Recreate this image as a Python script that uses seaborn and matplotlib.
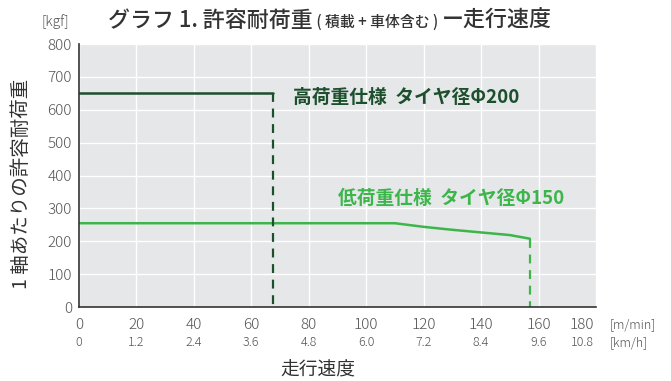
import matplotlib
matplotlib.use("Agg")
import matplotlib.pyplot as plt
import matplotlib.transforms as mtrans
import seaborn as sns
import pandas as pd

# Data
speed_ticks = [0, 20, 40, 60, 80, 100, 120, 140, 160, 180]
kmh_labels = ["0", "1.2", "2.4", "3.6", "4.8", "6.0", "7.2", "8.4", "9.6", "10.8"]
load_ticks = [0, 100, 200, 300, 400, 500, 600, 700, 800]

high_speed = [0, 67.5]
high_load = [650, 650]
high_max_speed = 67.5

low_speed = [0, 110, 120, 130, 140, 150, 157]
low_load = [255, 255, 244, 235, 227, 219, 208]
low_max_speed = 157

high_label = "高荷重仕様  タイヤ径Φ200"
low_label = "低荷重仕様  タイヤ径Φ150"

sns.set_theme(style="darkgrid")
plt.rcParams['font.family'] = ['Noto Sans CJK JP', 'DejaVu Sans']

dark = "#1c4f2c"
light = "#3cb64b"
grid_bg = "#e6e7e9"
txt = "#555555"

fig = plt.figure(figsize=(6.71, 3.81), dpi=100)
ax = fig.add_axes([0.1177, 0.194, 0.7705, 0.6905])
ax.set_facecolor(grid_bg)
ax.grid(True, color="white", linewidth=1.0)

df_h = pd.DataFrame({"speed": high_speed, "load": high_load})
df_l = pd.DataFrame({"speed": low_speed, "load": low_load})
sns.lineplot(data=df_h, x="speed", y="load", ax=ax, color=dark, linewidth=1.8)
sns.lineplot(data=df_l, x="speed", y="load", ax=ax, color=light, linewidth=1.8)
ax.plot([high_max_speed, high_max_speed], [high_load[-1], 0], color=dark,
        linewidth=1.6, linestyle=(0, (4, 3)))
ax.plot([low_max_speed, low_max_speed], [low_load[-1], 0], color=light,
        linewidth=1.6, linestyle=(0, (4, 3)))

ax.set_xlim(0, 180)
ax.set_ylim(0, 800)
ax.set_xticks(speed_ticks)
ax.set_xticklabels([str(v) for v in speed_ticks])
ax.set_yticks(load_ticks)
ax.set_yticklabels([str(v) for v in load_ticks])
ax.tick_params(axis="both", colors=txt, labelsize=11, length=0, pad=5)
ax.tick_params(axis="x", pad=8)
for lab in ax.get_xticklabels() + ax.get_yticklabels():
    lab.set_fontweight("light")

# last speed label sits a little left of its gridline in the reference
shift = mtrans.ScaledTranslation(-14 / 100, 0, fig.dpi_scale_trans)
last = ax.get_xticklabels()[-1]
last.set_transform(last.get_transform() + shift)

for s in ["top", "right"]:
    ax.spines[s].set_visible(False)
for s in ["left", "bottom"]:
    ax.spines[s].set_visible(True)
    ax.spines[s].set_color("#333333")
    ax.spines[s].set_linewidth(1.2)

ax.set_xlabel("")
ax.set_ylabel("")

# second row of x labels (km/h)
n = len(speed_ticks)
for i, (v, lab) in enumerate(zip(speed_ticks, kmh_labels)):
    dx = -10 if i == n - 1 else 0
    ax.annotate(lab, xy=(v, 0), xycoords=("data", "axes fraction"),
                xytext=(dx, -25.5), textcoords="offset points",
                ha="center", va="center", fontsize=9, color=txt, fontweight="light")

fig.text(610 / 671, 1 - 325 / 381, "[m/min]", fontsize=9, color=txt, ha="left", va="center", fontweight="light")
fig.text(610 / 671, 1 - 343 / 381, "[km/h]", fontsize=9, color=txt, ha="left", va="center", fontweight="light")
fig.text(318 / 671, 1 - 370 / 381, "走行速度", fontsize=13.5, color="#333333", ha="center", va="center")
fig.text(21 / 671, 1 - 184 / 381, "1 軸あたりの許容耐荷重", fontsize=14, color="#333333",
         ha="center", va="center", rotation=90)
fig.text(55 / 671, 1 - 22 / 381, "[kgf]", fontsize=10, color=txt, ha="center", va="center", fontweight="light")

# annotations
ax.text(74.5, 638, high_label, color=dark, fontsize=13.5, fontweight="bold", ha="left", va="center")
ax.text(90.3, 331, low_label, color=light, fontsize=13.5, fontweight="bold", ha="left", va="center")

# title composed of parts
base_y = 1 - 27 / 381
t1 = fig.text(108 / 671, base_y, "グラフ 1. 許容耐荷重", fontsize=15.8,
              color="#333333", fontweight="medium", ha="left", va="baseline")
parts = [(" ( 積載 + 車体含む ) ", 10.7), ("ー走行速度", 15.8)]
fig.canvas.draw()
r = fig.canvas.get_renderer()
prev = t1
for s, fs in parts:
    bb = prev.get_window_extent(renderer=r)
    x = bb.x1 / fig.bbox.width
    prev = fig.text(x, base_y, s, fontsize=fs, color="#333333",
                    fontweight="medium", ha="left", va="baseline")
    fig.canvas.draw()

fig.savefig("out.png", dpi=100)
